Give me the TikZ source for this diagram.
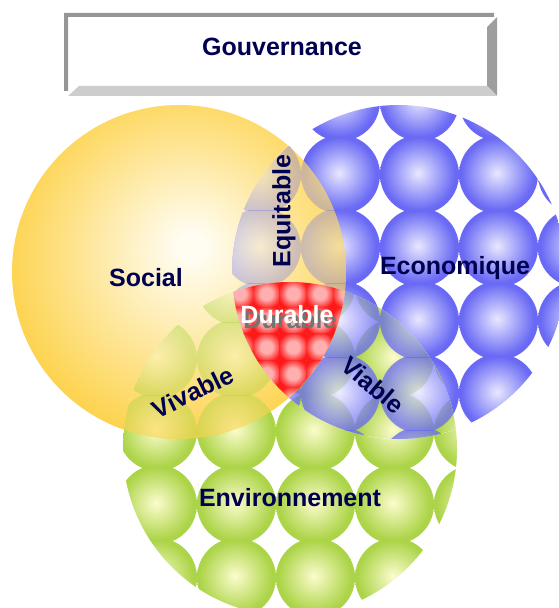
\documentclass[tikz,border=0pt]{standalone}
\usepackage{fontspec}
\setmainfont{Liberation Sans}

\definecolor{inknavy}{RGB}{0,0,80}
\definecolor{boxdark}{RGB}{150,150,150}
\definecolor{boxmid}{RGB}{158,158,158}
\definecolor{boxlight}{RGB}{205,205,205}
\definecolor{suncore}{RGB}{255,253,242}
\definecolor{sunedge}{RGB}{253,211,78}
\definecolor{bluecore}{RGB}{232,232,255}
\definecolor{blueedge}{RGB}{105,105,245}
\definecolor{greencore}{RGB}{252,252,205}
\definecolor{greenedge}{RGB}{172,212,72}
\definecolor{redcore}{RGB}{255,175,175}
\definecolor{rededge}{RGB}{255,25,25}

\pgfdeclareradialshading{sunball}{\pgfpoint{2bp}{4bp}}{color(0bp)=(suncore);color(2bp)=(suncore);color(27bp)=(sunedge);color(50bp)=(sunedge)}
\pgfdeclareradialshading{blueball}{\pgfpoint{-1bp}{1bp}}{color(0bp)=(bluecore);color(23bp)=(blueedge);color(50bp)=(blueedge)}
\pgfdeclareradialshading{greenball}{\pgfpoint{-1bp}{1bp}}{color(0bp)=(greencore);color(23bp)=(greenedge);color(50bp)=(greenedge)}
\pgfdeclareradialshading{redtile}{\pgfpoint{0bp}{0bp}}{color(0bp)=(redcore);color(8bp)=(redcore);color(20bp)=(rededge);color(50bp)=(rededge)}

% origin x, origin y, last column, last row, shading, opacity
\newcommand{\ballgrid}[6]{%
    \foreach \i in {0,...,#3}{
        \foreach \j in {0,...,#4}{
            \begin{scope}
                \clip ({#1+79*\i},{#2+73*\j}) rectangle +(79,73);
                \shade[shading=#5,opacity=#6] ({#1+79*\i+39.5},{#2+73*\j+36.5}) circle (39.5);
            \end{scope}
        }
    }%
}
\newcommand{\econballs}[1]{\ballgrid{222}{65}{4}{5}{blueball}{#1}}
\newcommand{\envballs}[1]{\ballgrid{118}{249}{4}{5}{greenball}{#1}}

\begin{document}
\begin{tikzpicture}[x=0.5pt,y=-0.5pt,
    word/.style={text=inknavy,font=\bfseries\fontsize{12.5}{15}\selectfont}]
    \useasboundingbox (0,0) rectangle (558,608);
    \coordinate (soc) at (179,272);
    \coordinate (eco) at (399,272);
    \coordinate (env) at (290,449);

    \fill[boxdark] (64,13) -- (494,13) -- (494,17) -- (68,17) -- (68,91) -- (64,91) -- cycle;
    \fill[boxmid] (497,17) -- (497,96) -- (487,86) -- (487,27) -- cycle;
    \fill[boxlight] (68,96) -- (497,96) -- (487,86) -- (79,86) -- cycle;
    \node[word] (gouv) at (282,47) {Gouvernance};

    \shade[shading=sunball] (soc) circle (167);
    \begin{scope}
        \clip (env) circle (167);
        \fill[white] (env) circle (167);
        \envballs{1}
    \end{scope}
    \begin{scope}
        \clip (eco) circle (167);
        \fill[white] (eco) circle (167);
        \econballs{1}
    \end{scope}
    % overlaps
    \begin{scope}
        \clip (eco) circle (167);
        \clip (env) circle (167);
        \fill[white] (eco) circle (167);
        \envballs{1}
        \econballs{0.75}
    \end{scope}
    \begin{scope}
        \clip (soc) circle (167);
        \clip (eco) circle (167);
        \shade[shading=sunball] (soc) circle (167);
        \econballs{0.32}
    \end{scope}
    \begin{scope}
        \clip (soc) circle (167);
        \clip (env) circle (167);
        \shade[shading=sunball] (soc) circle (167);
        \envballs{0.4}
    \end{scope}
    \begin{scope}
        \clip (soc) circle (167);
        \clip (eco) circle (167);
        \clip (env) circle (167);
        \foreach \i in {0,...,4}{
            \foreach \j in {0,...,4}{
                \begin{scope}
                    \clip ({226.3+26.7*\i},{280.3+26.7*\j}) rectangle +(26.7,26.7);
                    \shade[shading=redtile] ({239.65+26.7*\i},{293.65+26.7*\j}) circle (19);
                \end{scope}
            }
        }
    \end{scope}

    \node[word] (social) at (146,278) {Social};
    \node[word] (econ) at (455,268) {Economique};
    \node[word] (envir) at (290,498) {Environnement};
    \node[word,rotate=90] (equit) at (284,211) {Equitable};
    \node[word,rotate=26] (vivab) at (193,392) {Vivable};
    \node[word,rotate=-40] (viab) at (373,385) {Viable};
    \node[word,text=black!55] (durshadow) at (290,320) {Durable};
    \node[word,text=white] (durable) at (287,315) {Durable};
\end{tikzpicture}
\end{document}
